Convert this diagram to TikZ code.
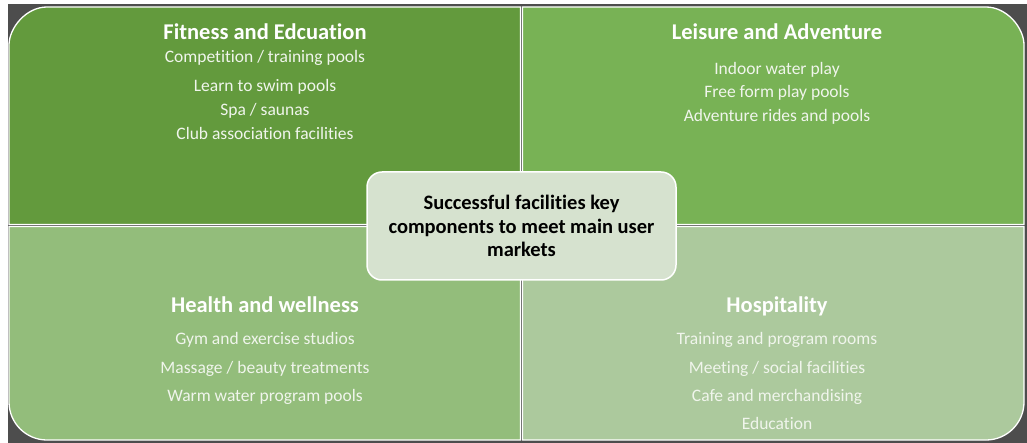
\documentclass[tikz,border=0pt]{standalone}
\usepackage{fontspec}
\setmainfont{Carlito}[Ligatures=NoCommon]
\usepackage{xcolor}
\usetikzlibrary{positioning}
\definecolor{fitgreen}{RGB}{99,154,61}
\definecolor{leigreen}{RGB}{120,178,85}
\definecolor{healgreen}{RGB}{147,189,123}
\definecolor{hospgreen}{RGB}{172,201,157}
\definecolor{keyfill}{RGB}{214,226,207}
\definecolor{framegray}{RGB}{77,77,77}
\definecolor{itemtext}{RGB}{240,245,236}

\tikzset{
	quad/.style={draw=white, line width=1.3pt},
	head/.style={text=white, font=\bfseries\fontsize{22.5}{26}\selectfont, text height=1.5ex, text depth=.3ex},
	item/.style={text=itemtext, font=\fontsize{17.5}{20}\selectfont, text height=1.5ex, text depth=.3ex},
	keybox/.style={draw=white, line width=1.5pt, fill=keyfill, rounded corners=15pt,
		minimum width=309pt, minimum height=108pt, align=center,
		font=\bfseries\fontsize{20.5}{23.5}\selectfont}
}

\begin{document}
\begin{tikzpicture}[x=1pt,y=-1pt]
	\useasboundingbox (0,0) rectangle (1027,443);
	\fill[framegray] (8,4) rectangle (1027,443);
	
	% the four market quadrants, rounded only on the outer corner
	\filldraw[quad,fill=fitgreen] (520.5,7) -- (47,7) .. controls (26,7) and (9,28) .. (9,45) -- (9,224.5) -- (520.5,224.5) -- cycle;
	\filldraw[quad,fill=leigreen] (522.5,7) -- (986,7) .. controls (1007,7) and (1024,28) .. (1024,45) -- (1024,224.5) -- (522.5,224.5) -- cycle;
	\filldraw[quad,fill=healgreen] (9,226.5) -- (9,402) .. controls (9,423) and (26,440) .. (47,440) -- (520.5,440) -- (520.5,226.5) -- cycle;
	\filldraw[quad,fill=hospgreen] (522.5,226.5) -- (1024,226.5) -- (1024,402) .. controls (1024,423) and (1007,440) .. (986,440) -- (522.5,440) -- cycle;
	
	\node[head] (fit) at (265,36.5) {Fitness and Edcuation};
	\node[item] (fit1) at (265,60) {Competition / training pools};
	\node[item] (fit2) at (265,89) {Learn to swim pools};
	\node[item] (fit3) at (265,113) {Spa / saunas};
	\node[item] (fit4) at (265,137) {Club association facilities};
	
	\node[head] (lei) at (777,36.5) {Leisure and Adventure};
	\node[item] (lei1) at (777,72) {Indoor water play};
	\node[item] (lei2) at (777,95) {Free form play pools};
	\node[item] (lei3) at (777,119) {Adventure rides and pools};
	
	\node[head] (heal) at (265,310) {Health and wellness};
	\node[item] (heal1) at (265,342) {Gym and exercise studios};
	\node[item] (heal2) at (265,371) {Massage / beauty treatments};
	\node[item] (heal3) at (265,399) {Warm water program pools};
	
	\node[head] (hosp) at (777,310) {Hospitality};
	\node[item] (hosp1) at (777,342) {Training and program rooms};
	\node[item] (hosp2) at (777,371) {Meeting / social facilities};
	\node[item] (hosp3) at (777,399) {Cafe and merchandising};
	\node[item] (hosp4) at (777,427) {Education};
	
	% key box in the middle
	\node[keybox] (key) at (521.5,226) {Successful facilities key\\components to meet main user\\markets};
\end{tikzpicture}
\end{document}
